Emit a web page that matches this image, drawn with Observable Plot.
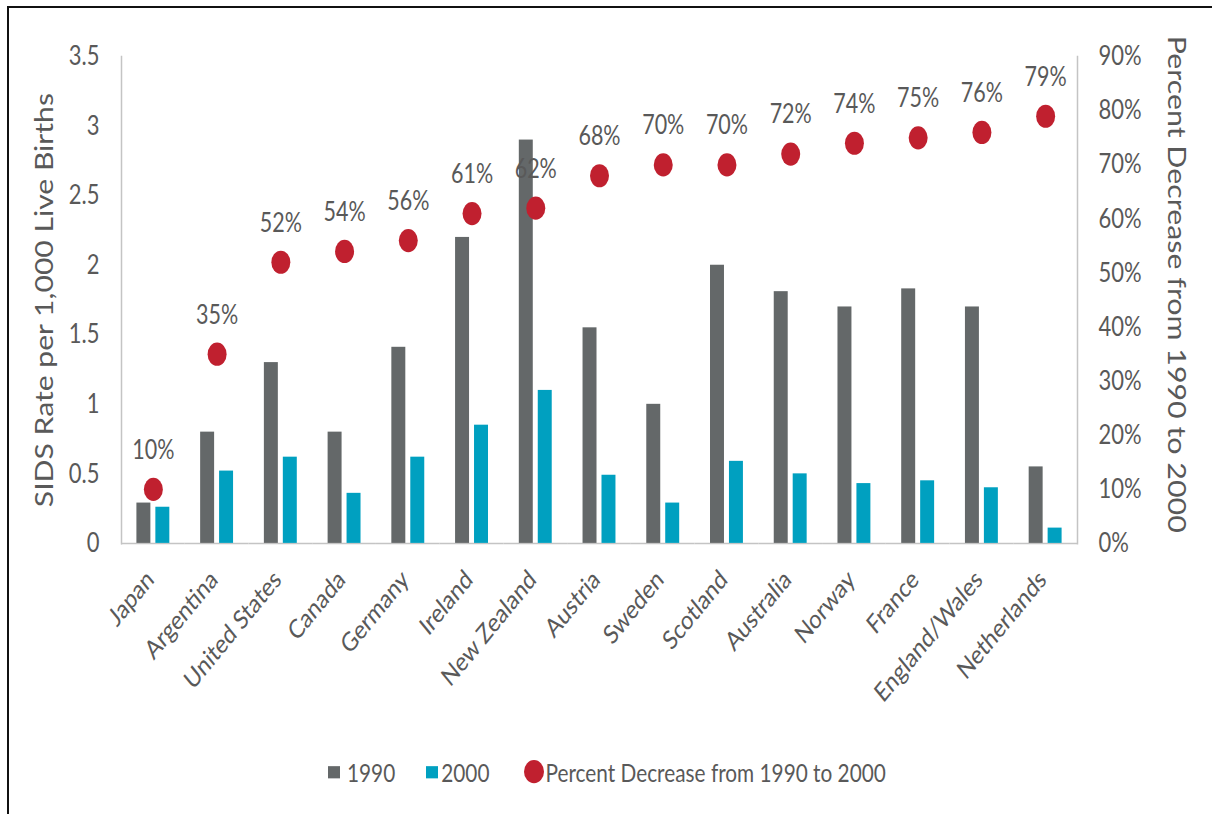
<!DOCTYPE html>
<html>
<head>
<meta charset="utf-8">
<script src="https://cdn.jsdelivr.net/npm/d3@7"></script>
<script src="https://cdn.jsdelivr.net/npm/@observablehq/plot@0.6"></script>
<style>
  html, body { margin: 0; padding: 0; background: #fff; }
  #wrap { position: relative; width: 1212px; height: 814px; overflow: hidden;
          font-family: Lato, "Liberation Sans", sans-serif; color: #595959; }
  #border { position: absolute; left: 7px; top: 6px; width: 1400px; height: 1000px;
            border: 2px solid #111; box-sizing: border-box; }
  /* the reference is drawn taller than wide: stretch the whole stage vertically */
  #stage { position: absolute; left: 0; top: 0; width: 1212px; height: 668px;
           transform: scaleY(1.22); transform-origin: 0 0; }
  #chart { position: absolute; left: 0; top: 0; }
  .title { position: absolute; white-space: nowrap; line-height: 1;
           font-family: Lato, "Liberation Sans", sans-serif; color: #595959; }
  #legend { position: absolute; left: 328px; top: 622px; display: flex; align-items: center;
            font-size: 20.8px; height: 22px; line-height: 1; }
  #legend .item { display: flex; align-items: center; }
  #legend .sw { width: 12px; height: 10px; }
  #legend .dot { width: 20px; height: 19px; border-radius: 50%; }
</style>
</head>
<body>
<div id="wrap">
  <div id="border"></div>
  <div id="stage">
    <div id="chart"></div>
    <div class="title" id="ltitle"></div>
    <div class="title" id="rtitle"></div>
    <div id="legend"></div>
  </div>
</div>
<script>
// ---- data ----
const countries = ["Japan","Argentina","United States","Canada","Germany","Ireland","New Zealand",
                   "Austria","Sweden","Scotland","Australia","Norway","France","England/Wales","Netherlands"];
const rate1990 = [0.29,0.80,1.30,0.80,1.41,2.20,2.90,1.55,1.00,2.00,1.81,1.70,1.83,1.70,0.55];
const rate2000 = [0.26,0.52,0.62,0.36,0.62,0.85,1.10,0.49,0.29,0.59,0.50,0.43,0.45,0.40,0.11];
const pctDecrease = [10,35,52,54,56,61,62,68,70,70,72,74,75,76,79];
const years = ["1990","2000"];
const leftTicks = [0,0.5,1,1.5,2,2.5,3,3.5];
const rightTicks = [0,10,20,30,40,50,60,70,80,90];
const leftTitle = "SIDS Rate per 1,000 Live Births";
const rightTitle = "Percent Decrease from 1990 to 2000";
const legendLabels = ["1990","2000","Percent Decrease from 1990 to 2000"];
const colors = ["#646869","#00a0c0"];
const red = "#c0202f";

// ---- derived tables ----
const yMax = 3.5, pctMax = 90;
const toY = p => p * yMax / pctMax;
const bars = countries.flatMap((c, i) => [
  {country: c, year: years[0], rate: rate1990[i]},
  {country: c, year: years[1], rate: rate2000[i]}
]);
const pts = countries.map((c, i) => ({country: c, pct: pctDecrease[i], yv: toY(pctDecrease[i])}));

const font = 'Lato, "Liberation Sans", sans-serif';
const axisGray = "#c4c4c4";

const chart = Plot.plot({
  width: 1212,
  height: 600,
  marginLeft: 121,
  marginRight: 135,
  marginTop: 46,
  marginBottom: 155,
  style: {fontFamily: font, color: "#595959", background: "transparent", overflow: "visible"},
  fx: {domain: countries, padding: 0, round: false, label: null},
  x: {domain: years, paddingInner: 0.263, paddingOuter: 0.813, round: false, axis: null},
  y: {domain: [0, yMax], axis: null},
  color: {domain: years, range: colors},
  marks: [
    Plot.frame({anchor: "left", facetAnchor: "left", stroke: axisGray, strokeWidth: 1.5}),
    Plot.frame({anchor: "right", facetAnchor: "right", stroke: axisGray, strokeWidth: 1.5}),
    Plot.ruleY([0], {stroke: axisGray, strokeWidth: 1.3}),
    Plot.barY(bars, {fx: "country", x: "year", y: "rate", fill: "year"}),
    Plot.dot(pts, {fx: "country", y: "yv", r: 9.5, fill: red, stroke: "none"}),
    Plot.text(pts, {fx: "country", y: "yv", text: d => d.pct + "%", dy: -32,
                    fontSize: 21.5, fill: "#595959"}),
    Plot.axisY(leftTicks, {anchor: "left", tickSize: 0, tickPadding: 22, fontSize: 22,
                           tickFormat: d => String(d), label: null, fill: "#595959"}),
    Plot.axisY(rightTicks.map(toY), {anchor: "right", tickSize: 0, tickPadding: 21, fontSize: 22,
                           tickFormat: d => Math.round(d * pctMax / yMax) + "%", label: null, fill: "#595959"}),
    Plot.axisFx({anchor: "bottom", tickRotate: -45, tickSize: 0, tickPadding: 26, fontSize: 21.5,
                 dx: -3, label: null, fill: "#595959"})
  ]
});
document.getElementById("chart").appendChild(chart);

// ---- titles ----
const lt = document.getElementById("ltitle");
lt.textContent = leftTitle;
lt.style.fontSize = "24.7px";
lt.style.left = "44px"; lt.style.top = "246px";
lt.style.transform = "translate(-50%,-50%) rotate(-90deg)";
const rt = document.getElementById("rtitle");
rt.textContent = rightTitle;
rt.style.fontSize = "24.9px";
rt.style.left = "1178px"; rt.style.top = "233px";
rt.style.transform = "translate(-50%,-50%) rotate(90deg)";

// ---- legend ----
const lg = document.getElementById("legend");
const gaps = [31, 34, 0];      // space after each item
const swGap = [7, 3, 2];       // space between swatch and label
legendLabels.forEach((lab, i) => {
  const it = document.createElement("div");
  it.className = "item";
  it.style.marginRight = gaps[i] + "px";
  const sw = document.createElement("div");
  if (i < 2) { sw.className = "sw"; sw.style.background = colors[i]; }
  else { sw.className = "dot"; sw.style.background = red; }
  sw.style.marginRight = swGap[i] + "px";
  const tx = document.createElement("span");
  tx.textContent = lab;
  it.appendChild(sw); it.appendChild(tx);
  lg.appendChild(it);
});
</script>
</body>
</html>
